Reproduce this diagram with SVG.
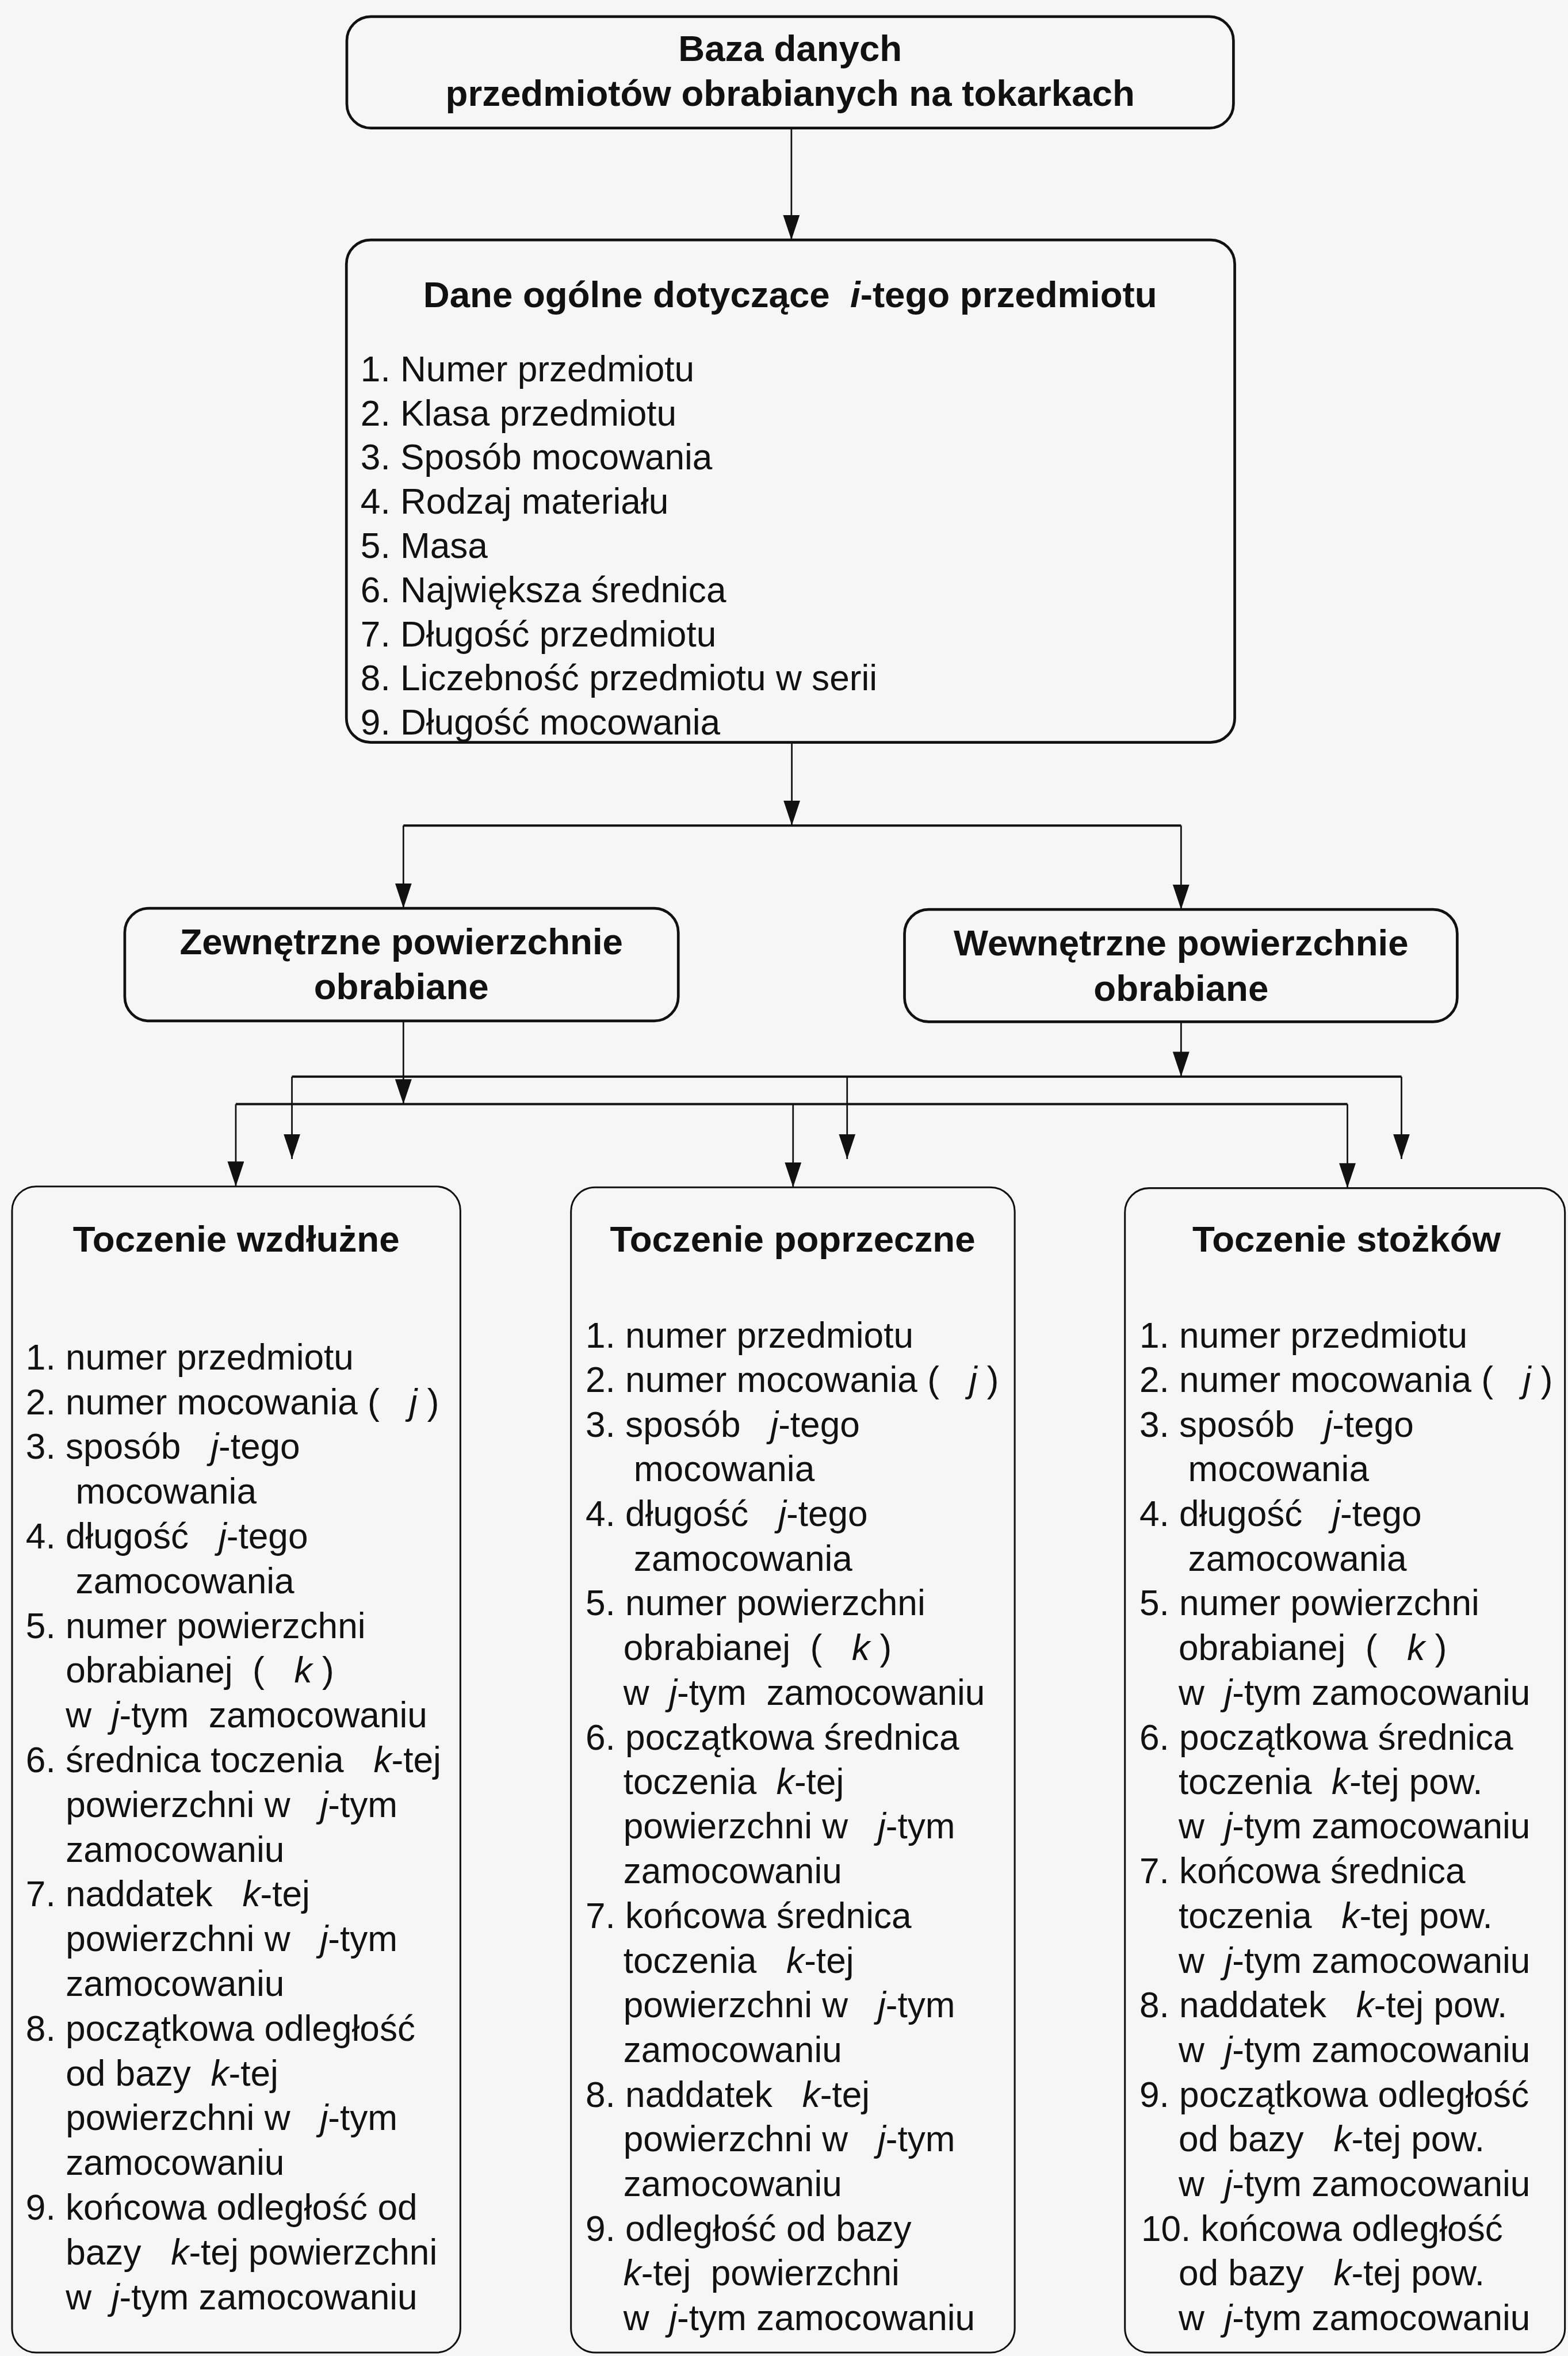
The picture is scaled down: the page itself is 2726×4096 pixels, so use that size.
<svg xmlns="http://www.w3.org/2000/svg" width="2726" height="4096" viewBox="0 0 2726 4096">
  <style>
    .box { fill: none; stroke: #111; stroke-width: 6.5; }
    .box.thin { stroke-width: 4.2; }
    .c { fill: none; stroke: #111; stroke-width: 3.8; }
    .bus { fill: none; stroke: #111; stroke-width: 5.5; }
    text { font-family: "Liberation Sans", Arial, Helvetica, sans-serif; fill: #111; white-space: pre; }
    .t { font-size: 86px; }
    .h { font-size: 88px; font-weight: bold; text-anchor: middle; }
    .i { font-style: italic; }
  </style>
  <defs>
    <marker id="ah" viewBox="0 0 60 40" refX="60" refY="20" markerWidth="60" markerHeight="40" markerUnits="userSpaceOnUse" orient="auto">
      <path d="M0,0 L60,20 L0,40 Z" fill="#111"/>
    </marker>
  </defs>
  <rect x="0" y="0" width="2726" height="4096" fill="#f6f6f6"/>

  <!-- everything is laid out on a 3769 x 5664 grid and scaled to the canvas -->
  <g transform="scale(0.723)">

    <g id="connectors">
      <line class="c" x1="1903" y1="308" x2="1903" y2="577" marker-end="url(#ah)"/>
      <line class="c" x1="1904" y1="1785" x2="1904" y2="1985" marker-end="url(#ah)"/>
      <line class="bus" x1="970" y1="1985" x2="2840" y2="1985"/>
      <line class="c" x1="970" y1="1985" x2="970" y2="2184" marker-end="url(#ah)"/>
      <line class="c" x1="2840" y1="1985" x2="2840" y2="2187" marker-end="url(#ah)"/>
      <line class="c" x1="970" y1="2455" x2="970" y2="2655" marker-end="url(#ah)"/>
      <line class="c" x1="2840" y1="2457" x2="2840" y2="2589" marker-end="url(#ah)"/>
      <line class="bus" x1="702" y1="2589" x2="3370" y2="2589"/>
      <line class="c" x1="702" y1="2589" x2="702" y2="2787" marker-end="url(#ah)"/>
      <line class="c" x1="2037" y1="2589" x2="2037" y2="2787" marker-end="url(#ah)"/>
      <line class="c" x1="3370" y1="2589" x2="3370" y2="2787" marker-end="url(#ah)"/>
      <line class="bus" x1="567" y1="2655" x2="3240" y2="2655"/>
      <line class="c" x1="567" y1="2655" x2="567" y2="2853" marker-end="url(#ah)"/>
      <line class="c" x1="1907" y1="2655" x2="1907" y2="2855" marker-end="url(#ah)"/>
      <line class="c" x1="3240" y1="2655" x2="3240" y2="2857" marker-end="url(#ah)"/>
    </g>

    <g id="baza">
      <rect class="box" x="834" y="40" width="2132" height="268" rx="58"/>
      <text class="h" x="1900" y="147">Baza danych</text>
      <text class="h" x="1900" y="254">przedmiotów obrabianych na tokarkach</text>
    </g>

    <g id="dane-ogolne">
      <rect class="box" x="833" y="577" width="2136" height="1208" rx="58"/>
      <text class="h" x="1900" y="739">Dane ogólne dotyczące &#160;<tspan class="i">i</tspan>-tego przedmiotu</text>
      <text class="t" x="867" y="917">1. Numer przedmiotu</text>
      <text class="t" x="867" y="1023">2. Klasa przedmiotu</text>
      <text class="t" x="867" y="1129">3. Sposób mocowania</text>
      <text class="t" x="867" y="1235">4. Rodzaj materiału</text>
      <text class="t" x="867" y="1341">5. Masa</text>
      <text class="t" x="867" y="1448">6. Największa średnica</text>
      <text class="t" x="867" y="1554">7. Długość przedmiotu</text>
      <text class="t" x="867" y="1660">8. Liczebność przedmiotu w serii</text>
      <text class="t" x="867" y="1766">9. Długość mocowania</text>
    </g>

    <g id="zewnetrzne">
      <rect class="box" x="300" y="2184" width="1331" height="271" rx="58"/>
      <text class="h" x="965" y="2294">Zewnętrzne powierzchnie</text>
      <text class="h" x="965" y="2403">obrabiane</text>
    </g>

    <g id="wewnetrzne">
      <rect class="box" x="2175" y="2187" width="1329" height="270" rx="58"/>
      <text class="h" x="2840" y="2297">Wewnętrzne powierzchnie</text>
      <text class="h" x="2840" y="2406">obrabiane</text>
    </g>

    <g id="toczenie-wzdluzne">
      <rect class="box thin" x="29" y="2853" width="1078" height="2804" rx="58"/>
      <text class="h" x="568" y="3010">Toczenie wzdłużne</text>
      <text class="t" x="62" y="3293">1. numer przedmiotu</text>
      <text class="t" x="62" y="3401">2. numer mocowania ( &#160;&#160;<tspan class="i">j</tspan> )</text>
      <text class="t" x="62" y="3508">3. sposób &#160;&#160;<tspan class="i">j</tspan>-tego</text>
      <text class="t" x="182" y="3616">mocowania</text>
      <text class="t" x="62" y="3723">4. długość &#160;&#160;<tspan class="i">j</tspan>-tego</text>
      <text class="t" x="182" y="3831">zamocowania</text>
      <text class="t" x="62" y="3939">5. numer powierzchni</text>
      <text class="t" x="158" y="4046">obrabianej &#160;( &#160;&#160;<tspan class="i">k</tspan> )</text>
      <text class="t" x="158" y="4154">w &#160;<tspan class="i">j</tspan>-tym &#160;zamocowaniu</text>
      <text class="t" x="62" y="4261">6. średnica toczenia &#160;&#160;<tspan class="i">k</tspan>-tej</text>
      <text class="t" x="158" y="4369">powierzchni w &#160;&#160;<tspan class="i">j</tspan>-tym</text>
      <text class="t" x="158" y="4477">zamocowaniu</text>
      <text class="t" x="62" y="4584">7. naddatek &#160;&#160;<tspan class="i">k</tspan>-tej</text>
      <text class="t" x="158" y="4692">powierzchni w &#160;&#160;<tspan class="i">j</tspan>-tym</text>
      <text class="t" x="158" y="4799">zamocowaniu</text>
      <text class="t" x="62" y="4907">8. początkowa odległość</text>
      <text class="t" x="158" y="5015">od bazy &#160;<tspan class="i">k</tspan>-tej</text>
      <text class="t" x="158" y="5122">powierzchni w &#160;&#160;<tspan class="i">j</tspan>-tym</text>
      <text class="t" x="158" y="5230">zamocowaniu</text>
      <text class="t" x="62" y="5338">9. końcowa odległość od</text>
      <text class="t" x="158" y="5445">bazy &#160;&#160;<tspan class="i">k</tspan>-tej powierzchni</text>
      <text class="t" x="158" y="5553">w &#160;<tspan class="i">j</tspan>-tym zamocowaniu</text>
    </g>

    <g id="toczenie-poprzeczne">
      <rect class="box thin" x="1373" y="2855" width="1067" height="2802" rx="58"/>
      <text class="h" x="1906" y="3010">Toczenie poprzeczne</text>
      <text class="t" x="1408" y="3240">1. numer przedmiotu</text>
      <text class="t" x="1408" y="3347">2. numer mocowania ( &#160;&#160;<tspan class="i">j</tspan> )</text>
      <text class="t" x="1408" y="3455">3. sposób &#160;&#160;<tspan class="i">j</tspan>-tego</text>
      <text class="t" x="1524" y="3562">mocowania</text>
      <text class="t" x="1408" y="3670">4. długość &#160;&#160;<tspan class="i">j</tspan>-tego</text>
      <text class="t" x="1524" y="3777">zamocowania</text>
      <text class="t" x="1408" y="3884">5. numer powierzchni</text>
      <text class="t" x="1499" y="3992">obrabianej &#160;( &#160;&#160;<tspan class="i">k</tspan> )</text>
      <text class="t" x="1499" y="4099">w &#160;<tspan class="i">j</tspan>-tym &#160;zamocowaniu</text>
      <text class="t" x="1408" y="4207">6. początkowa średnica</text>
      <text class="t" x="1499" y="4314">toczenia &#160;<tspan class="i">k</tspan>-tej</text>
      <text class="t" x="1499" y="4421">powierzchni w &#160;&#160;<tspan class="i">j</tspan>-tym</text>
      <text class="t" x="1499" y="4529">zamocowaniu</text>
      <text class="t" x="1408" y="4636">7. końcowa średnica</text>
      <text class="t" x="1499" y="4744">toczenia &#160;&#160;<tspan class="i">k</tspan>-tej</text>
      <text class="t" x="1499" y="4851">powierzchni w &#160;&#160;<tspan class="i">j</tspan>-tym</text>
      <text class="t" x="1499" y="4958">zamocowaniu</text>
      <text class="t" x="1408" y="5066">8. naddatek &#160;&#160;<tspan class="i">k</tspan>-tej</text>
      <text class="t" x="1499" y="5173">powierzchni w &#160;&#160;<tspan class="i">j</tspan>-tym</text>
      <text class="t" x="1499" y="5281">zamocowaniu</text>
      <text class="t" x="1408" y="5388">9. odległość od bazy</text>
      <text class="t" x="1499" y="5495"><tspan class="i">k</tspan>-tej &#160;powierzchni</text>
      <text class="t" x="1499" y="5603">w &#160;<tspan class="i">j</tspan>-tym zamocowaniu</text>
    </g>

    <g id="toczenie-stozkow">
      <rect class="box thin" x="2705" y="2857" width="1058" height="2800" rx="58"/>
      <text class="h" x="3238" y="3010">Toczenie stożków</text>
      <text class="t" x="2740" y="3240">1. numer przedmiotu</text>
      <text class="t" x="2740" y="3347">2. numer mocowania ( &#160;&#160;<tspan class="i">j</tspan> )</text>
      <text class="t" x="2740" y="3455">3. sposób &#160;&#160;<tspan class="i">j</tspan>-tego</text>
      <text class="t" x="2857" y="3562">mocowania</text>
      <text class="t" x="2740" y="3670">4. długość &#160;&#160;<tspan class="i">j</tspan>-tego</text>
      <text class="t" x="2857" y="3777">zamocowania</text>
      <text class="t" x="2740" y="3884">5. numer powierzchni</text>
      <text class="t" x="2834" y="3992">obrabianej &#160;( &#160;&#160;<tspan class="i">k</tspan> )</text>
      <text class="t" x="2834" y="4099">w &#160;<tspan class="i">j</tspan>-tym zamocowaniu</text>
      <text class="t" x="2740" y="4207">6. początkowa średnica</text>
      <text class="t" x="2834" y="4314">toczenia &#160;<tspan class="i">k</tspan>-tej pow.</text>
      <text class="t" x="2834" y="4421">w &#160;<tspan class="i">j</tspan>-tym zamocowaniu</text>
      <text class="t" x="2740" y="4529">7. końcowa średnica</text>
      <text class="t" x="2834" y="4636">toczenia &#160;&#160;<tspan class="i">k</tspan>-tej pow.</text>
      <text class="t" x="2834" y="4744">w &#160;<tspan class="i">j</tspan>-tym zamocowaniu</text>
      <text class="t" x="2740" y="4851">8. naddatek &#160;&#160;<tspan class="i">k</tspan>-tej pow.</text>
      <text class="t" x="2834" y="4958">w &#160;<tspan class="i">j</tspan>-tym zamocowaniu</text>
      <text class="t" x="2740" y="5066">9. początkowa odległość</text>
      <text class="t" x="2834" y="5173">od bazy &#160;&#160;<tspan class="i">k</tspan>-tej pow.</text>
      <text class="t" x="2834" y="5281">w &#160;<tspan class="i">j</tspan>-tym zamocowaniu</text>
      <text class="t" x="2744" y="5388">10. końcowa odległość</text>
      <text class="t" x="2834" y="5495">od bazy &#160;&#160;<tspan class="i">k</tspan>-tej pow.</text>
      <text class="t" x="2834" y="5603">w &#160;<tspan class="i">j</tspan>-tym zamocowaniu</text>
    </g>
  </g>
</svg>
